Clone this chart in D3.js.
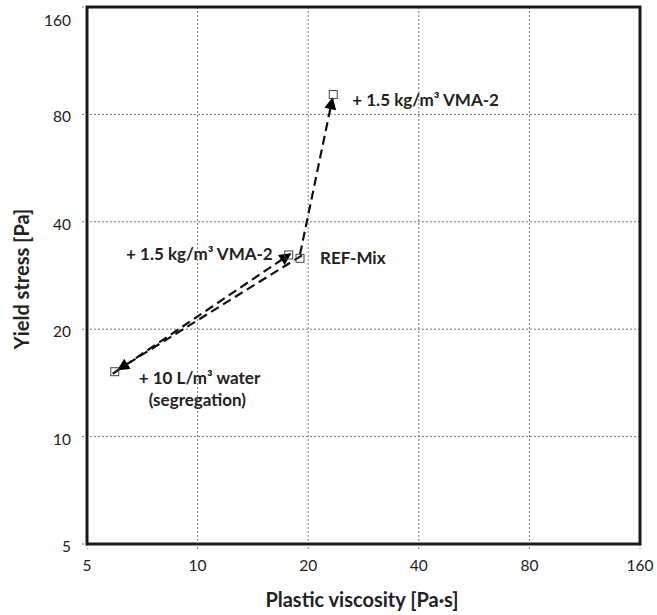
<!DOCTYPE html>
<html><head><meta charset="utf-8">
<script src="https://cdn.jsdelivr.net/npm/d3@7"></script>
<style>body{margin:0;background:#fff}svg{display:block}</style>
</head><body>
<svg id="c" width="657" height="615"></svg>
<script>
const xTicks = [5, 10, 20, 40, 80, 160];
const yTicks = [5, 10, 20, 40, 80, 160];
const pointNames = ["REF-Mix", "+ 1.5 kg/m³ VMA-2", "+ 10 L/m³ water", "+ 1.5 kg/m³ VMA-2"];
const viscosity = [19.0, 23.4, 5.95, 17.7];
const yieldStress = [31.6, 91, 15.2, 32.3];
const arrowFrom = [0, 2, 0];
const arrowTo = [2, 3, 1];

const svg = d3.select("#c");
const L = 87, R = 640, T = 7, B = 544;
const x = d3.scaleLog().base(2).domain([5, 160]).range([L, R]);
const y = d3.scaleLog().base(2).domain([5, 160]).range([B, T]);
const font = "Lato, 'Open Sans', sans-serif";

svg.append("defs").append("marker")
  .attr("id", "ah").attr("viewBox", "0 0 10 10").attr("refX", 9).attr("refY", 5)
  .attr("markerWidth", 6).attr("markerHeight", 5.5).attr("markerUnits", "strokeWidth")
  .attr("orient", "auto")
  .append("path").attr("d", "M0,0 L10,5 L0,10 Z").attr("fill", "#000");

// grid
const grid = svg.append("g");
grid.selectAll(".gx").data(xTicks.slice(1, -1)).join("line")
  .attr("x1", d => x(d)).attr("x2", d => x(d)).attr("y1", T).attr("y2", B + 5)
  .attr("stroke", "#777").attr("stroke-width", 1).attr("stroke-dasharray", "2,2");
grid.selectAll(".gy").data(yTicks.slice(1, -1)).join("line")
  .attr("y1", d => y(d)).attr("y2", d => y(d)).attr("x1", L - 5).attr("x2", R)
  .attr("stroke", "#777").attr("stroke-width", 1).attr("stroke-dasharray", "2,2");
svg.selectAll(".tx").data([5, 160]).join("line")
  .attr("x1", d => x(d)).attr("x2", d => x(d)).attr("y1", B).attr("y2", B + 5)
  .attr("stroke", "#777").attr("stroke-dasharray", "2,2");
svg.selectAll(".ty").data([5, 160]).join("line")
  .attr("y1", d => y(d)).attr("y2", d => y(d)).attr("x1", L - 5).attr("x2", L)
  .attr("stroke", "#777").attr("stroke-dasharray", "2,2");

// frame
svg.append("rect").attr("x", L).attr("y", T).attr("width", R - L).attr("height", B - T)
  .attr("fill", "none").attr("stroke", "#1a1a1a").attr("stroke-width", 3);

// tick labels
svg.selectAll(".xl").data(xTicks).join("text")
  .attr("x", d => x(d)).attr("y", B + 27).attr("text-anchor", "middle")
  .attr("font-family", font).attr("font-size", 15.5).attr("fill", "#222").text(d => d);
svg.selectAll(".yl").data(yTicks).join("text")
  .attr("x", L - 16).attr("y", d => d === 160 ? y(d) + 19 : y(d) + 8).attr("text-anchor", "end")
  .attr("font-family", font).attr("font-size", 15.5).attr("fill", "#222").text(d => d);

// titles
svg.append("text").attr("x", 362).attr("y", 607).attr("text-anchor", "middle")
  .attr("font-family", font).attr("font-weight", "bold").attr("font-size", 20).attr("fill", "#222")
  .text("Plastic viscosity [Pa·s]");
svg.append("text").attr("transform", "translate(29,279) rotate(-90)").attr("text-anchor", "middle")
  .attr("font-family", font).attr("font-weight", "bold").attr("font-size", 20).attr("fill", "#222")
  .text("Yield stress [Pa]");

// arrows
const offs = [[2, -3], [-2, 2], [0, -4]];
const shorten = [4, -2, 4];
arrowFrom.forEach((f, i) => {
  const x1 = x(viscosity[f]), y1 = y(yieldStress[f]);
  const x2 = x(viscosity[arrowTo[i]]), y2 = y(yieldStress[arrowTo[i]]);
  const dx = x2 - x1, dy = y2 - y1, len = Math.hypot(dx, dy);
  const sh = shorten[i];
  svg.append("line")
    .attr("x1", x1 + offs[i][0]).attr("y1", y1 + offs[i][1])
    .attr("x2", x2 - dx / len * sh).attr("y2", y2 - dy / len * sh)
    .attr("stroke", "#111").attr("stroke-width", 2.2).attr("stroke-dasharray", "9,5")
    .attr("marker-end", "url(#ah)");
});

// points
svg.selectAll(".pt").data(viscosity).join("rect")
  .attr("x", (d, i) => x(d) - 4).attr("y", (d, i) => y(yieldStress[i]) - 4)
  .attr("width", 8).attr("height", 8).attr("fill", "none").attr("stroke", "#444").attr("stroke-width", 1);

// labels
function lab(px, py, txt, anchor) {
  svg.append("text").attr("x", px).attr("y", py).attr("text-anchor", anchor || "start")
    .attr("font-family", font).attr("font-weight", "bold").attr("font-size", 17).attr("fill", "#222").text(txt);
}
lab(x(viscosity[1]) + 19, y(yieldStress[1]) + 12, pointNames[1]);
lab(x(viscosity[0]) + 20, y(yieldStress[0]) + 6, pointNames[0]);
lab(x(viscosity[3]) - 16, y(yieldStress[3]) + 5, pointNames[3], "end");
lab(x(viscosity[2]) + 24, y(yieldStress[2]) + 12, pointNames[2]);
lab(x(viscosity[2]) + 34, y(yieldStress[2]) + 34, "(segregation)");
</script>
</body></html>
